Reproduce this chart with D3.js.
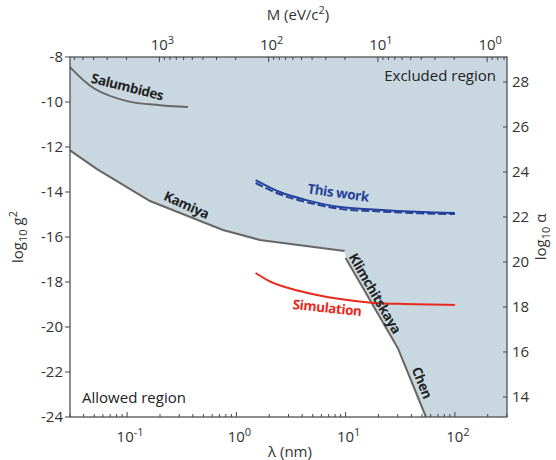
<!DOCTYPE html>
<html>
<head>
<meta charset="utf-8">
<script src="https://cdn.jsdelivr.net/npm/d3@7"></script>
<style>
  body { margin: 0; background: #fff; }
  text { font-family: "Open Sans", "Noto Sans", sans-serif; fill: #333; }
</style>
</head>
<body>
<svg id="chart"></svg>
<script>
// chart size
const width = 556, height = 460;
const margin = { top: 57, right: 49, bottom: 43, left: 70 };

// data: [lambda (nm), log10 g^2]
const salumbides = [[0.03, -8.45], [0.05, -9.4], [0.1, -9.96], [0.2, -10.14], [0.36, -10.22]];
const kamiya = [[0.03, -12.15], [0.053, -12.98], [0.162, -14.4], [0.753, -15.69], [1.64, -16.13], [9.8, -16.62]];
const klimchitskaya = [[10, -16.93], [30, -20.93]];
const chen = [[30, -20.93], [54.4, -24]];
const thisWork = [[1.5, -13.47], [2.5, -14.0], [4.4, -14.36], [8.9, -14.67], [18, -14.78], [50, -14.89], [100, -14.93]];
const thisWorkDashed = [[1.5, -13.6], [2.5, -14.1], [4.4, -14.45], [8.9, -14.75], [18, -14.85], [50, -14.95], [100, -14.98]];
const simulation = [[1.5, -17.6], [2.0, -17.96], [3.8, -18.4], [8.9, -18.76], [18, -18.93], [31, -18.97], [100, -19.02]];

// axes
const xDomain = [0.03, 300];
const yDomain = [-24, -8];
const hbarC = 197.3; // eV nm, M = hbar c / lambda
const alphaOffset = 37.11; // log10 alpha = log10 g^2 + offset
const xMajor = [0.1, 1, 10, 100];
const mMajor = [1, 10, 100, 1000];
const yTicks = [-24, -22, -20, -18, -16, -14, -12, -10, -8];
const alphaTicks = [14, 16, 18, 20, 22, 24, 26, 28];

const svg = d3.select("#chart").attr("width", width).attr("height", height);
const x = d3.scaleLog().domain(xDomain).range([margin.left, width - margin.right]);
const y = d3.scaleLinear().domain(yDomain).range([height - margin.bottom, margin.top]);
const xm = d3.scaleLog().domain([hbarC / xDomain[0], hbarC / xDomain[1]]).range([margin.left, width - margin.right]);
const ya = d3.scaleLinear().domain([yDomain[0] + alphaOffset, yDomain[1] + alphaOffset]).range([height - margin.bottom, margin.top]);

const x0 = margin.left, x1 = width - margin.right, y0 = margin.top, y1 = height - margin.bottom;

// excluded region
const region = kamiya.concat(klimchitskaya, chen.slice(1), [[xDomain[1], yDomain[0]], [xDomain[1], yDomain[1]], [xDomain[0], yDomain[1]]]);
svg.append("path")
    .attr("d", d3.line().x(d => x(d[0])).y(d => y(d[1]))(region) + "Z")
    .attr("fill", "#c9d7e0");

const smooth = d3.line().x(d => x(d[0])).y(d => y(d[1])).curve(d3.curveMonotoneX);
const rounded = d3.line().x(d => x(d[0])).y(d => y(d[1])).curve(d3.curveCatmullRom.alpha(0.5));
const straight = d3.line().x(d => x(d[0])).y(d => y(d[1]));

const grey = "#666";
svg.append("path").attr("d", rounded(salumbides)).attr("fill", "none").attr("stroke", grey).attr("stroke-width", 2);
svg.append("path").attr("d", straight(kamiya)).attr("fill", "none").attr("stroke", grey).attr("stroke-width", 2);
svg.append("path").attr("d", straight(klimchitskaya)).attr("fill", "none").attr("stroke", grey).attr("stroke-width", 2);
svg.append("path").attr("d", straight(chen)).attr("fill", "none").attr("stroke", grey).attr("stroke-width", 2);

svg.append("path").attr("d", smooth(thisWorkDashed)).attr("fill", "none").attr("stroke", "#23409a")
    .attr("stroke-width", 2).attr("stroke-dasharray", "8,3");
svg.append("path").attr("d", smooth(thisWork)).attr("fill", "none").attr("stroke", "#23409a").attr("stroke-width", 2);
svg.append("path").attr("d", smooth(simulation)).attr("fill", "none").attr("stroke", "#e8291c").attr("stroke-width", 2);

// curve labels
function label(txt, cx, cy, rot, color) {
    svg.append("text").attr("transform", `translate(${cx},${cy}) rotate(${rot})`)
        .attr("text-anchor", "middle").attr("dominant-baseline", "middle")
        .style("font-size", "13.5px").style("font-weight", "bold").style("letter-spacing", "-0.4px")
        .style("fill", color).text(txt);
}
label("Salumbides", 127, 88, 14, "#222");
label("Kamiya", 186, 206, 24, "#222");
label("This work", 338, 194, 8, "#23409a");
label("Simulation", 327, 309, 6, "#e8291c");
label("Klimchitskaya", 374, 294, 60, "#222");
label("Chen", 421, 383, 68, "#222");

svg.append("text").attr("x", 496).attr("y", 81).attr("text-anchor", "end").style("font-size", "15px").style("fill", "#222").text("Excluded region");
svg.append("text").attr("x", 82).attr("y", 403).style("font-size", "15px").style("fill", "#222").text("Allowed region");

// frame
const axisColor = "#444";
svg.append("rect").attr("x", x0).attr("y", y0).attr("width", x1 - x0).attr("height", y1 - y0)
    .attr("fill", "none").attr("stroke", axisColor).attr("stroke-width", 1.2);

function minorTicks(domain) {
    const lo = Math.min(...domain), hi = Math.max(...domain);
    const out = [];
    for (let e = Math.floor(Math.log10(lo)); e <= Math.ceil(Math.log10(hi)); e++) {
        for (let m = 1; m <= 9; m++) {
            const v = m * Math.pow(10, e);
            if (v >= lo && v <= hi) out.push({ v, major: m === 1 });
        }
    }
    return out;
}

// bottom ticks (inward)
minorTicks(xDomain).forEach(t => {
    svg.append("line").attr("x1", x(t.v)).attr("x2", x(t.v)).attr("y1", y1).attr("y2", y1 - (t.major ? 5 : 3))
        .attr("stroke", axisColor);
});
// top ticks (inward)
minorTicks(xm.domain()).forEach(t => {
    svg.append("line").attr("x1", xm(t.v)).attr("x2", xm(t.v)).attr("y1", y0).attr("y2", y0 + (t.major ? 5 : 3))
        .attr("stroke", axisColor);
});

function powLabel(tx, ty, exp) {
    const t = svg.append("text").attr("x", tx).attr("y", ty).attr("text-anchor", "middle").style("font-size", "15px");
    t.append("tspan").text("10");
    t.append("tspan").attr("dy", -6).style("font-size", "11px").text(exp);
}
xMajor.forEach(v => powLabel(x(v) + 3, 442, String(Math.round(Math.log10(v)))));
mMajor.forEach(v => powLabel(xm(v) + 3, 50, String(Math.round(Math.log10(v)))));

// left ticks (outward)
yTicks.forEach(v => {
    svg.append("line").attr("x1", x0 - 5).attr("x2", x0).attr("y1", y(v)).attr("y2", y(v)).attr("stroke", axisColor);
    svg.append("text").attr("x", x0 - 7).attr("y", y(v)).attr("dy", "0.35em").attr("text-anchor", "end")
        .style("font-size", "15px").text(v);
});
// right ticks (inward)
alphaTicks.forEach(v => {
    svg.append("line").attr("x1", x1 - 4).attr("x2", x1).attr("y1", ya(v)).attr("y2", ya(v)).attr("stroke", axisColor);
    svg.append("text").attr("x", x1 + 5).attr("y", ya(v)).attr("dy", "0.35em")
        .style("font-size", "15px").text(v);
});

// axis titles
svg.append("text").attr("x", 290).attr("y", 457).attr("text-anchor", "middle").style("font-size", "15px").text("λ (nm)");
const mt = svg.append("text").attr("x", 298).attr("y", 20).attr("text-anchor", "middle").style("font-size", "15px");
mt.append("tspan").text("M (eV/c");
mt.append("tspan").attr("dy", -6).style("font-size", "11px").text("2");
mt.append("tspan").attr("dy", 6).text(")");

const lg = svg.append("text").attr("transform", "translate(23,237) rotate(-90)").attr("text-anchor", "middle").style("font-size", "15px");
lg.append("tspan").text("log");
lg.append("tspan").attr("dy", 4).style("font-size", "11px").text("10");
lg.append("tspan").attr("dy", -4).text(" g");
lg.append("tspan").attr("dy", -6).style("font-size", "11px").text("2");

const la = svg.append("text").attr("transform", "translate(546,237) rotate(-90)").attr("text-anchor", "middle").style("font-size", "15px");
la.append("tspan").text("log");
la.append("tspan").attr("dy", 4).style("font-size", "11px").text("10");
la.append("tspan").attr("dy", -4).text(" α");
</script>
</body>
</html>
